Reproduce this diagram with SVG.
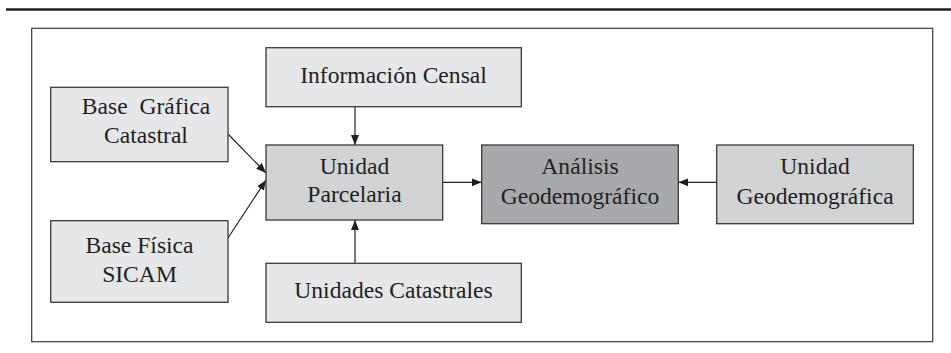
<svg xmlns="http://www.w3.org/2000/svg" width="951" height="353" viewBox="0 0 951 353">
<defs>
<marker id="ah" viewBox="0 0 10 10" refX="10" refY="5" markerWidth="10" markerHeight="10" markerUnits="userSpaceOnUse" orient="auto">
<path d="M0,1 L10,5 L0,9 z" fill="#231f20"/>
</marker>
</defs>
<style>
.box{stroke:#3a3a3a;stroke-width:1.3}
.l1{fill:#e6e7e8}
.l2{fill:#d1d3d4}
.l3{fill:#a7a9ac}
text{font-family:"Liberation Serif","Times New Roman",serif;font-size:23.6px;fill:#231f20;text-anchor:middle}
.c{stroke:#231f20;stroke-width:1.2;fill:none;marker-end:url(#ah)}
</style>
<rect width="951" height="353" fill="#ffffff"/>
<line x1="6" y1="9.5" x2="951" y2="9.5" stroke="#231f20" stroke-width="2.5"/>
<rect x="31.7" y="28.3" width="901" height="313.4" fill="none" stroke="#3a3a3a" stroke-width="1.2"/>
<g id="connectors">
<line class="c" x1="355" y1="107" x2="355" y2="145"/>
<line class="c" x1="355" y1="263" x2="355" y2="220"/>
<line class="c" x1="228" y1="134" x2="266" y2="173"/>
<line class="c" x1="228" y1="238" x2="266" y2="180"/>
<line class="c" x1="443" y1="182.3" x2="481.7" y2="182.3"/>
<line class="c" x1="716.7" y1="182.3" x2="678.3" y2="182.3"/>
</g>
<g id="base-grafica">
<rect class="box l1" x="50.7" y="87.3" width="177.3" height="74.4"/>
<text x="146" y="114" xml:space="preserve">Base  Gráfica</text>
<text x="146" y="143">Catastral</text>
</g>
<g id="informacion-censal">
<rect class="box l1" x="266" y="47.7" width="255.3" height="59"/>
<text x="393.5" y="82.7">Información Censal</text>
</g>
<g id="unidad-parcelaria">
<rect class="box l2" x="266" y="145" width="176.7" height="75"/>
<text x="354.5" y="174">Unidad</text>
<text x="354.5" y="202.3">Parcelaria</text>
</g>
<g id="analisis">
<rect class="box l3" x="481.7" y="145" width="196.6" height="78.7"/>
<text x="580" y="174">Análisis</text>
<text x="580" y="204.3">Geodemográfico</text>
</g>
<g id="unidad-geo">
<rect class="box l2" x="716.7" y="145" width="196.6" height="78.7"/>
<text x="815" y="174">Unidad</text>
<text x="815" y="204.3">Geodemográfica</text>
</g>
<g id="base-fisica">
<rect class="box l1" x="50.7" y="220.7" width="177.3" height="81.6"/>
<text x="139.5" y="252.7">Base Física</text>
<text x="139.5" y="281.7">SICAM</text>
</g>
<g id="unidades-catastrales">
<rect class="box l1" x="266" y="263.3" width="255.3" height="59"/>
<text x="393.5" y="298.3">Unidades Catastrales</text>
</g>
</svg>
